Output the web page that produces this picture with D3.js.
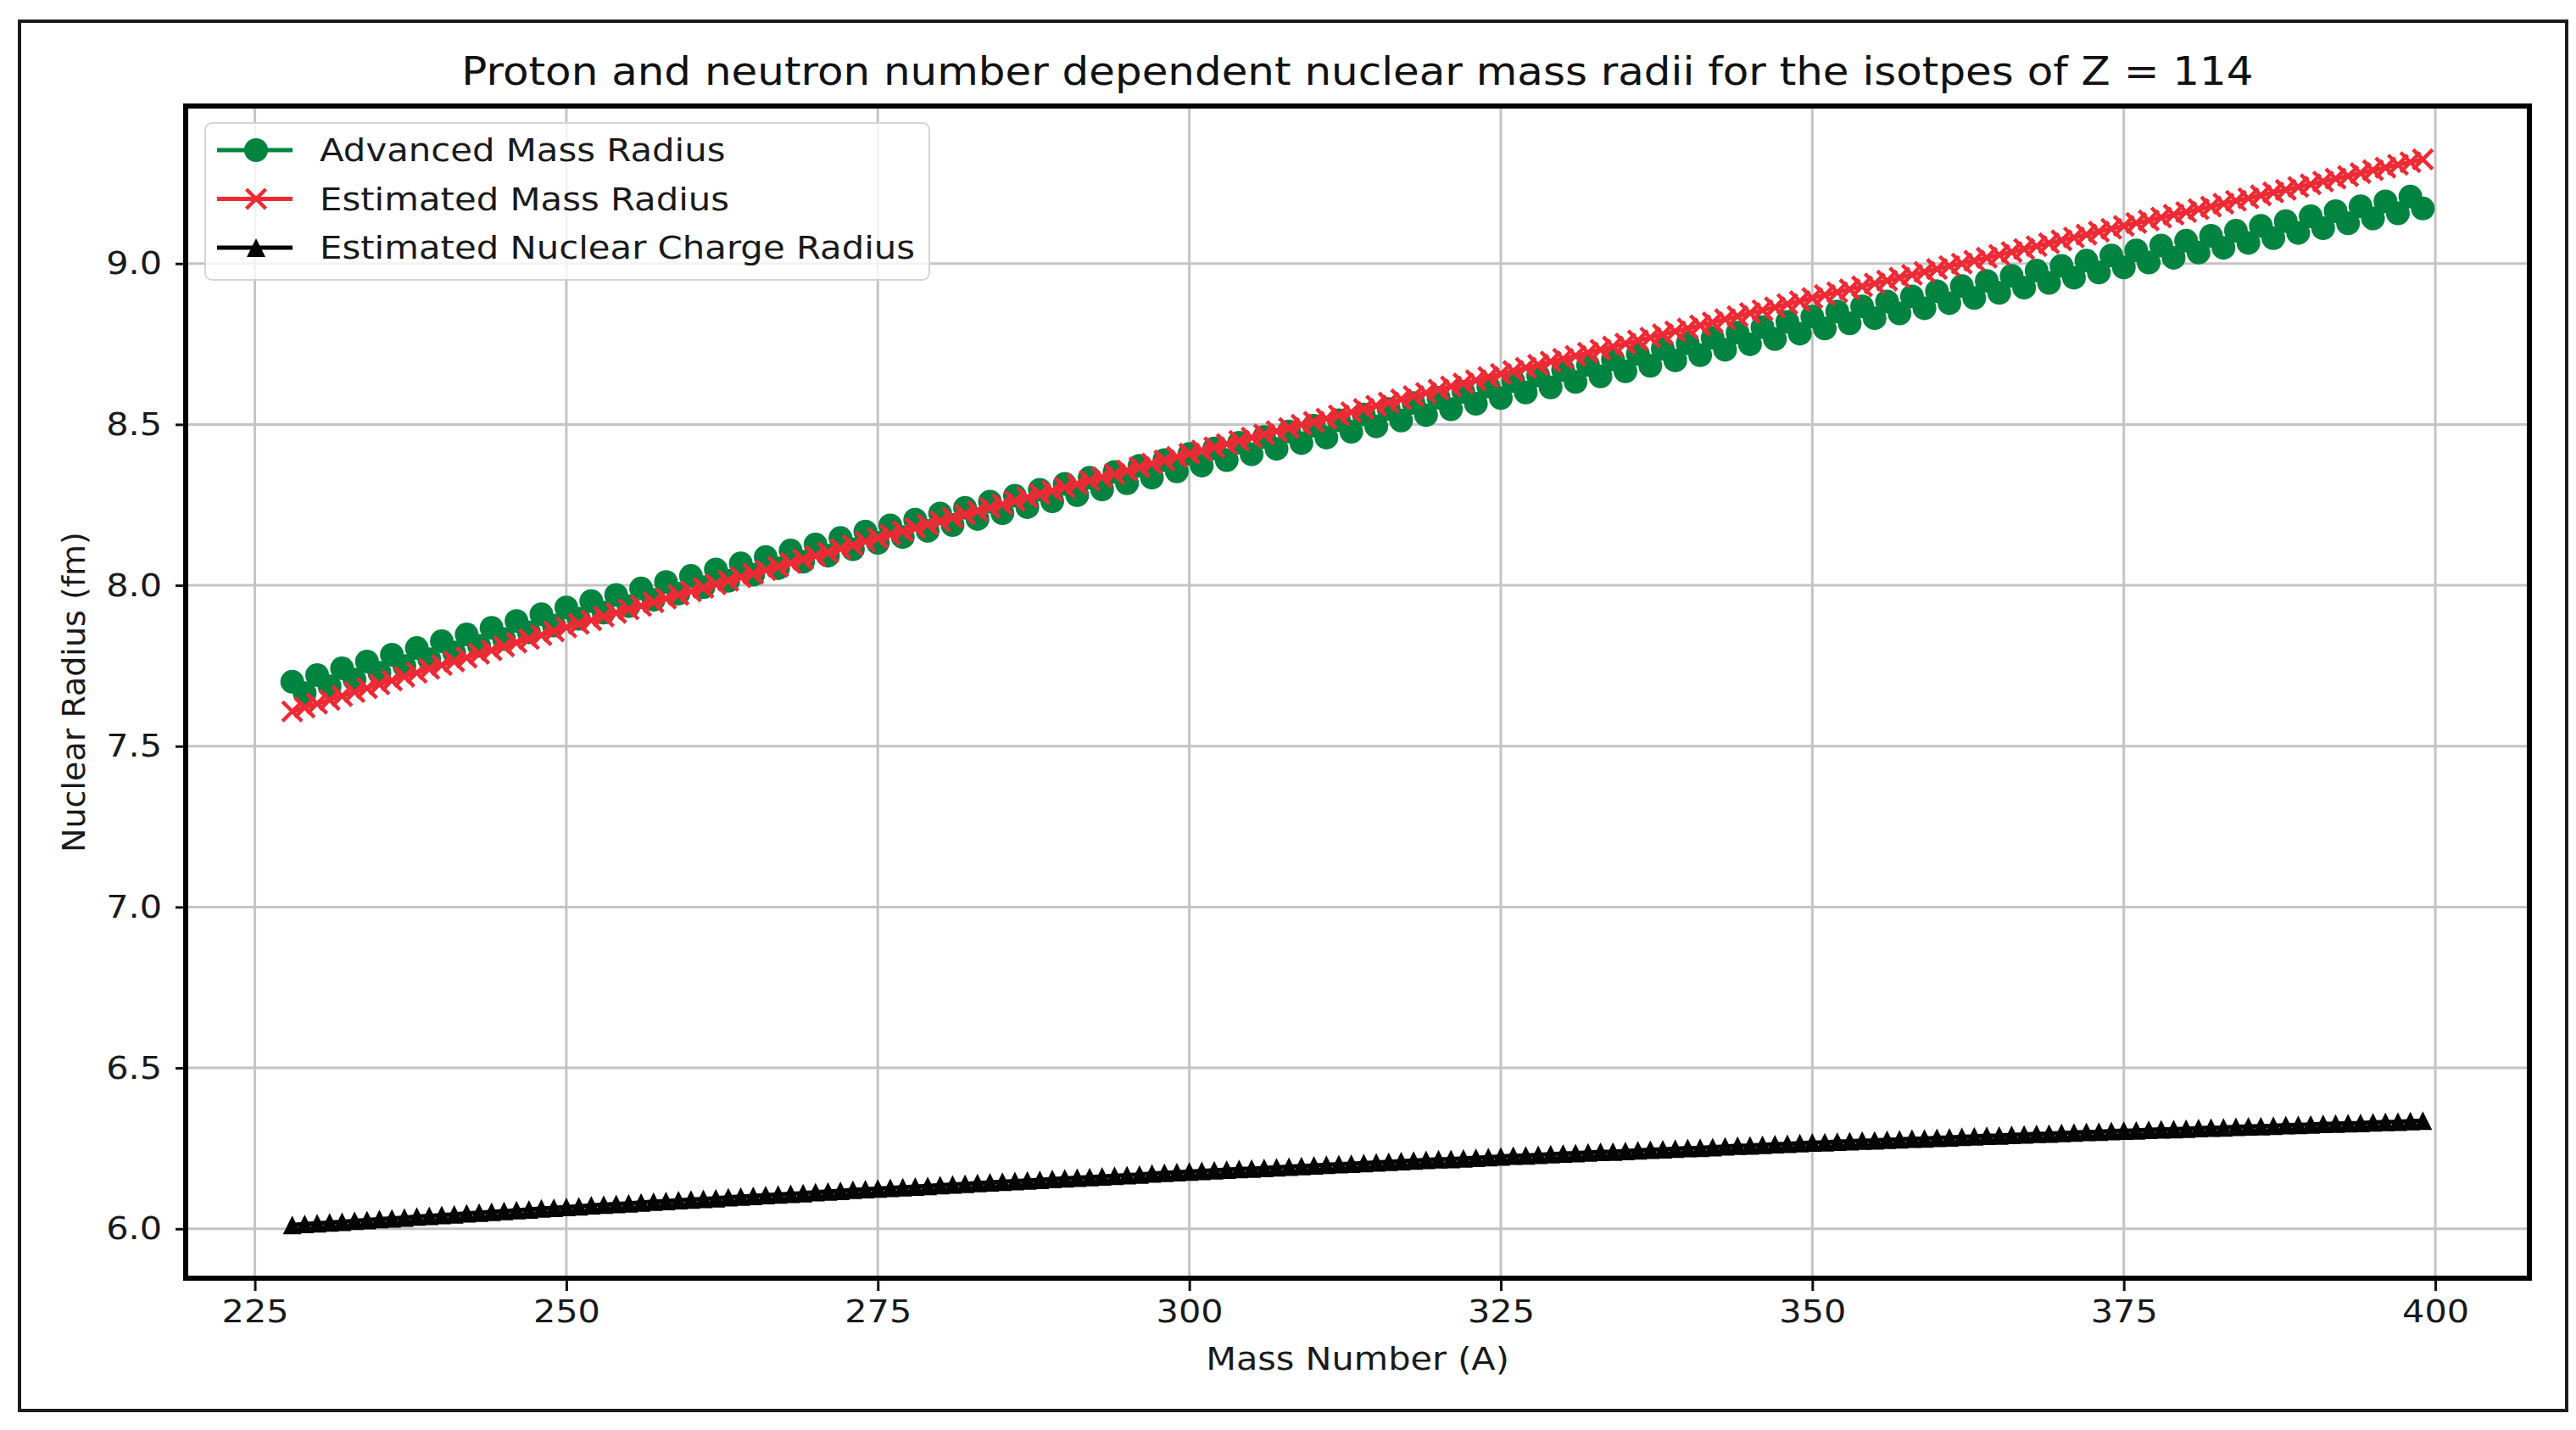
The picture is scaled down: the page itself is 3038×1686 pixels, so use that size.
<!DOCTYPE html>
<html>
<head>
<meta charset="utf-8">
<script src="https://cdn.jsdelivr.net/npm/d3@7"></script>
<style>
  body { margin: 0; background: #fff; }
  text { font-family: "DejaVu Sans", sans-serif; }
</style>
</head>
<body>
<div id="mount"></div>
<script>
'use strict';

// mass numbers A of the Z = 114 isotopes
const massNumbers = [
  228,229,230,231,232,233,234,235,236,237,238,239,240,241,242,243,244,245,246,247,248,249,250,
  251,252,253,254,255,256,257,258,259,260,261,262,263,264,265,266,267,268,269,270,271,272,273,274,275,
  276,277,278,279,280,281,282,283,284,285,286,287,288,289,290,291,292,293,294,295,296,297,298,299,300,
  301,302,303,304,305,306,307,308,309,310,311,312,313,314,315,316,317,318,319,320,321,322,323,324,325,
  326,327,328,329,330,331,332,333,334,335,336,337,338,339,340,341,342,343,344,345,346,347,348,349,350,
  351,352,353,354,355,356,357,358,359,360,361,362,363,364,365,366,367,368,369,370,371,372,373,374,375,
  376,377,378,379,380,381,382,383,384,385,386,387,388,389,390,391,392,393,394,395,396,397,398,399
];

// radii in fm
const advancedMassRadius = [
  7.700,7.665,7.721,7.686,7.742,7.707,7.763,7.728,7.784,7.749,7.805,7.770,7.826,7.791,7.847,7.812,7.868,7.833,7.889,7.854,7.910,7.875,7.931,
  7.896,7.951,7.915,7.970,7.935,7.990,7.955,8.010,7.974,8.029,7.994,8.049,8.014,8.068,8.033,8.088,8.053,8.108,8.073,8.127,8.092,8.147,8.112,8.167,8.132,
  8.186,8.150,8.204,8.169,8.223,8.187,8.241,8.206,8.260,8.224,8.278,8.243,8.297,8.261,8.315,8.280,8.334,8.298,8.352,8.317,8.371,8.335,8.389,8.354,8.408,
  8.372,8.425,8.389,8.443,8.407,8.461,8.424,8.478,8.442,8.496,8.459,8.513,8.477,8.531,8.494,8.548,8.512,8.566,8.529,8.583,8.547,8.601,8.564,8.618,8.582,
  8.635,8.599,8.652,8.615,8.669,8.632,8.685,8.649,8.702,8.665,8.719,8.682,8.735,8.699,8.752,8.715,8.769,8.732,8.785,8.749,8.802,8.765,8.819,8.782,8.835,
  8.798,8.851,8.814,8.867,8.830,8.882,8.845,8.898,8.861,8.914,8.877,8.930,8.893,8.946,8.909,8.962,8.925,8.978,8.940,8.993,8.956,9.009,8.972,9.025,8.988,
  9.041,9.003,9.056,9.018,9.071,9.034,9.086,9.049,9.102,9.064,9.117,9.079,9.132,9.095,9.147,9.110,9.163,9.125,9.178,9.140,9.193,9.156,9.208,9.171
];

const estimatedMassRadius = [
  7.608,7.620,7.632,7.644,7.656,7.668,7.680,7.692,7.704,7.716,7.728,7.740,7.752,7.763,7.775,7.787,7.798,7.810,7.822,7.833,7.845,7.857,7.869,
  7.880,7.891,7.903,7.914,7.925,7.936,7.947,7.959,7.970,7.981,7.992,8.003,8.014,8.025,8.036,8.047,8.058,8.069,8.080,8.091,8.102,8.113,8.124,8.136,8.147,
  8.157,8.168,8.178,8.189,8.199,8.210,8.220,8.231,8.241,8.252,8.262,8.273,8.283,8.294,8.304,8.315,8.325,8.336,8.346,8.357,8.367,8.378,8.388,8.399,8.409,
  8.419,8.429,8.439,8.449,8.459,8.469,8.479,8.489,8.499,8.508,8.518,8.528,8.538,8.548,8.558,8.568,8.578,8.588,8.598,8.608,8.618,8.627,8.637,8.647,8.657,
  8.666,8.676,8.685,8.695,8.704,8.713,8.723,8.732,8.742,8.751,8.761,8.770,8.780,8.789,8.798,8.808,8.817,8.827,8.836,8.846,8.855,8.864,8.874,8.883,8.893,
  8.902,8.911,8.920,8.929,8.938,8.947,8.956,8.965,8.974,8.983,8.992,9.000,9.009,9.018,9.027,9.036,9.045,9.054,9.063,9.072,9.081,9.090,9.099,9.108,9.117,
  9.126,9.134,9.143,9.152,9.160,9.169,9.177,9.186,9.195,9.203,9.212,9.221,9.229,9.238,9.246,9.255,9.264,9.272,9.281,9.290,9.298,9.307,9.315,9.324
];

const chargeRadius = [
  6.012,6.015,6.017,6.020,6.022,6.025,6.027,6.030,6.032,6.035,6.038,6.040,6.043,6.045,6.048,6.050,6.053,6.055,6.058,6.060,6.063,6.065,6.068,
  6.070,6.073,6.075,6.077,6.079,6.082,6.084,6.086,6.089,6.091,6.093,6.095,6.098,6.100,6.102,6.105,6.107,6.109,6.111,6.114,6.116,6.118,6.121,6.123,6.125,
  6.127,6.129,6.131,6.133,6.136,6.138,6.140,6.142,6.144,6.146,6.148,6.150,6.152,6.155,6.157,6.159,6.161,6.163,6.165,6.167,6.169,6.172,6.174,6.176,6.178,
  6.180,6.182,6.184,6.186,6.187,6.189,6.191,6.193,6.195,6.197,6.199,6.201,6.202,6.204,6.206,6.208,6.210,6.212,6.214,6.216,6.217,6.219,6.221,6.223,6.225,
  6.227,6.228,6.230,6.232,6.234,6.235,6.237,6.239,6.240,6.242,6.244,6.246,6.247,6.249,6.251,6.252,6.254,6.256,6.258,6.259,6.261,6.263,6.264,6.266,6.268,
  6.269,6.271,6.272,6.274,6.275,6.277,6.278,6.280,6.281,6.283,6.284,6.286,6.287,6.289,6.290,6.292,6.293,6.295,6.296,6.298,6.299,6.301,6.302,6.304,6.305,
  6.306,6.308,6.309,6.310,6.311,6.313,6.314,6.315,6.317,6.318,6.319,6.320,6.322,6.323,6.324,6.326,6.327,6.328,6.329,6.331,6.332,6.333,6.335,6.336
];

const seriesNames = ['Advanced Mass Radius', 'Estimated Mass Radius', 'Estimated Nuclear Charge Radius'];
const xTicks = [225, 250, 275, 300, 325, 350, 375, 400];
const yTicks = [6.0, 6.5, 7.0, 7.5, 8.0, 8.5, 9.0];

const W = 3038, H = 1686;
const margin = { top: 125, left: 219, right: W - 2983, bottom: H - 1507 },
      width = W - margin.left - margin.right,
      height = H - margin.top - margin.bottom;

// the source picture is a little stretched sideways, so horizontal text is widened to match
const textStretch = 1.09;

const series = [
  { name: seriesNames[0], values: advancedMassRadius, color: '#00843f', marker: 'circle' },
  { name: seriesNames[1], values: estimatedMassRadius, color: '#ee2a35', marker: 'cross' },
  { name: seriesNames[2], values: chargeRadius, color: '#050505', marker: 'triangle' }
];

function stretch(sel, k) {
  sel.each(function () {
    const len = this.getComputedTextLength();
    d3.select(this).attr('textLength', len * k).attr('lengthAdjust', 'spacingAndGlyphs');
  });
}

const svg = d3.select('#mount').append('svg')
    .attr('width', W)
    .attr('height', H);

svg.append('rect')
    .attr('width', W).attr('height', H)
    .attr('fill', '#fff');

// outer frame of the picture
svg.append('rect')
    .attr('x', 23).attr('y', 25)
    .attr('width', 3027 - 23).attr('height', 1663 - 25)
    .attr('fill', 'none')
    .attr('stroke', '#1c1c1c')
    .attr('stroke-width', 4);

// matplotlib-like 5% margins
const xExt = d3.extent(massNumbers);
const xPad = (xExt[1] - xExt[0]) * 0.05;
const allY = advancedMassRadius.concat(estimatedMassRadius, chargeRadius);
const yExt = d3.extent(allY);
const yPad = (yExt[1] - yExt[0]) * 0.05;

const x = d3.scaleLinear().domain([xExt[0] - xPad, xExt[1] + xPad]).range([0, width]);
const y = d3.scaleLinear().domain([yExt[0] - yPad, yExt[1] + yPad]).range([height, 0]);

const g = svg.append('g')
    .attr('transform', `translate(${margin.left}, ${margin.top})`);

// grid
g.append('g').selectAll('line').data(xTicks).join('line')
    .attr('x1', d => x(d)).attr('x2', d => x(d))
    .attr('y1', 0).attr('y2', height)
    .attr('stroke', '#c4c4c4').attr('stroke-width', 3);
g.append('g').selectAll('line').data(yTicks).join('line')
    .attr('x1', 0).attr('x2', width)
    .attr('y1', d => y(d)).attr('y2', d => y(d))
    .attr('stroke', '#c4c4c4').attr('stroke-width', 3);

// axes
const xAxis = g.append('g')
    .attr('transform', `translate(0, ${height})`)
    .call(d3.axisBottom(x).tickValues(xTicks).tickSize(15).tickPadding(10).tickFormat(d3.format('d')));
const yAxis = g.append('g')
    .call(d3.axisLeft(y).tickValues(yTicks).tickSize(12).tickPadding(16).tickFormat(d3.format('.1f')));
[xAxis, yAxis].forEach(a => {
  a.select('.domain').remove();
  a.selectAll('line').attr('stroke', '#111').attr('stroke-width', 3);
  a.selectAll('text').attr('font-size', 38).attr('fill', '#1a1a1a')
      .attr('font-family', '"DejaVu Sans", sans-serif')
      .call(stretch, textStretch);
});

// markers
function drawMarker(sel, type, color) {
  if (type === 'circle') {
    sel.append('circle').attr('r', 14).attr('fill', color);
  } else if (type === 'cross') {
    sel.append('path').attr('d', 'M-11.5,-11.5L11.5,11.5M-11.5,11.5L11.5,-11.5')
        .attr('stroke', color).attr('stroke-width', 4.5).attr('fill', 'none');
  } else {
    sel.append('path').attr('d', 'M0,-11L11,11L-11,11Z').attr('fill', color);
  }
}

const line = d3.line().x(d => x(d[0])).y(d => y(d[1]));

series.forEach(s => {
  const pts = massNumbers.map((a, i) => [a, s.values[i]]);
  const sg = g.append('g');
  sg.append('path')
      .datum(pts)
      .attr('d', line)
      .attr('fill', 'none')
      .attr('stroke', s.color)
      .attr('stroke-width', 5);
  sg.selectAll('g.pt').data(pts).join('g')
      .attr('class', 'pt')
      .attr('transform', d => `translate(${x(d[0])}, ${y(d[1])})`)
      .each(function () { drawMarker(d3.select(this), s.marker, s.color); });
});

// frame of the axes
g.append('rect')
    .attr('width', width).attr('height', height)
    .attr('fill', 'none')
    .attr('stroke', '#000')
    .attr('stroke-width', 6);

// title and axis labels
svg.append('text')
    .attr('x', margin.left + width / 2).attr('y', 100)
    .attr('text-anchor', 'middle')
    .attr('font-size', 46).attr('fill', '#111')
    .text('Proton and neutron number dependent nuclear mass radii for the isotpes of Z = 114')
    .call(stretch, 1.085);

svg.append('text')
    .attr('x', margin.left + width / 2).attr('y', 1615)
    .attr('text-anchor', 'middle')
    .attr('font-size', 38).attr('fill', '#1a1a1a')
    .text('Mass Number (A)')
    .call(stretch, textStretch);

svg.append('text')
    .attr('transform', `translate(100, ${margin.top + height / 2}) rotate(-90)`)
    .attr('text-anchor', 'middle')
    .attr('font-size', 38).attr('fill', '#1a1a1a')
    .text('Nuclear Radius (fm)');

// legend
const legend = svg.append('g').attr('transform', 'translate(242, 145)');
legend.append('rect')
    .attr('width', 1096 - 242).attr('height', 330 - 145)
    .attr('rx', 8)
    .attr('fill', '#fff').attr('fill-opacity', 0.8)
    .attr('stroke', '#d4d4d4').attr('stroke-width', 2);
series.forEach((s, i) => {
  const row = legend.append('g').attr('transform', `translate(0, ${32 + i * 57.5})`);
  row.append('line')
      .attr('x1', 14).attr('x2', 103)
      .attr('stroke', s.color).attr('stroke-width', 5);
  drawMarker(row.append('g').attr('transform', 'translate(60, 0)'), s.marker, s.color);
  row.append('text')
      .attr('x', 135).attr('dy', '0.35em')
      .attr('font-size', 38).attr('fill', '#1a1a1a')
      .text(s.name)
      .call(stretch, 1.1);
});
</script>
</body>
</html>
